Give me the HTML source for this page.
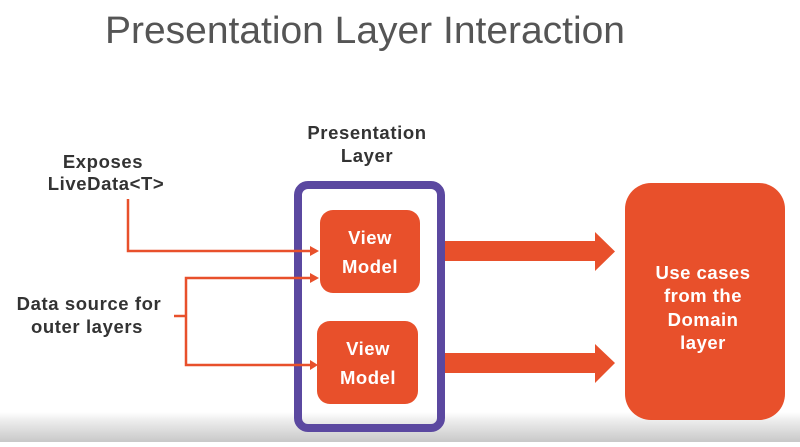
<!DOCTYPE html>
<html><head><style>
body{margin:0;width:800px;height:442px;overflow:hidden;background:#fff;font-family:"Liberation Sans",sans-serif;}
</style></head><body>
<svg width="800" height="442" xmlns="http://www.w3.org/2000/svg">
<defs><linearGradient id="g" x1="0" y1="0" x2="0" y2="1"><stop offset="0" stop-color="#fff"/><stop offset="0.3" stop-color="#ececec"/><stop offset="1" stop-color="#c8c8c8"/></linearGradient></defs>
<rect x="0" y="412" width="800" height="30" fill="url(#g)"/>
<text x="105" y="43" font-size="38" fill="#555" font-family="Liberation Sans" textLength="520" lengthAdjust="spacingAndGlyphs">Presentation Layer Interaction</text>
<g font-weight="bold" fill="#333" font-size="18.5" text-anchor="middle" letter-spacing="0.6">
<text x="367" y="139">Presentation</text>
<text x="367" y="162">Layer</text>
<text x="103" y="168">Exposes</text>
<text x="106" y="190">LiveData&lt;T&gt;</text>
<text x="89" y="310">Data source for</text>
<text x="87" y="333">outer layers</text>
</g>
<rect x="298" y="185" width="143" height="243" rx="10" fill="none" stroke="#5b48a0" stroke-width="8"/>
<rect x="320" y="210" width="100" height="83" rx="13" fill="#e8502b"/>
<rect x="317" y="321" width="101" height="83" rx="13" fill="#e8502b"/>
<g font-weight="bold" fill="#fff" font-size="18.5" text-anchor="middle" letter-spacing="0.5">
<text x="370" y="244">View</text><text x="370" y="273">Model</text>
<text x="368" y="355">View</text><text x="368" y="384">Model</text>
</g>
<g stroke="#e8502b" stroke-width="2.5" fill="none">
<path d="M128 199V251H312"/>
<path d="M312 278H186V365H312"/>
<path d="M174 316H186"/>
</g>
<g fill="#e8502b">
<path d="M310 246L319 251L310 256Z"/>
<path d="M310 273L319 278L310 283Z"/>
<path d="M310 360L318 365L310 370Z"/>
<path d="M445 241H595V232L615 251.5L595 271V261H445Z"/>
<path d="M445 353H595V344L615 363L595 383V373H445Z"/>
<rect x="625" y="183" width="160" height="237" rx="26"/>
</g>
<g font-weight="bold" fill="#fff" font-size="18.5" text-anchor="middle" letter-spacing="0.5">
<text x="703" y="279">Use cases</text>
<text x="703" y="302">from the</text>
<text x="703" y="326">Domain</text>
<text x="703" y="349">layer</text>
</g>
</svg>
</body></html>
